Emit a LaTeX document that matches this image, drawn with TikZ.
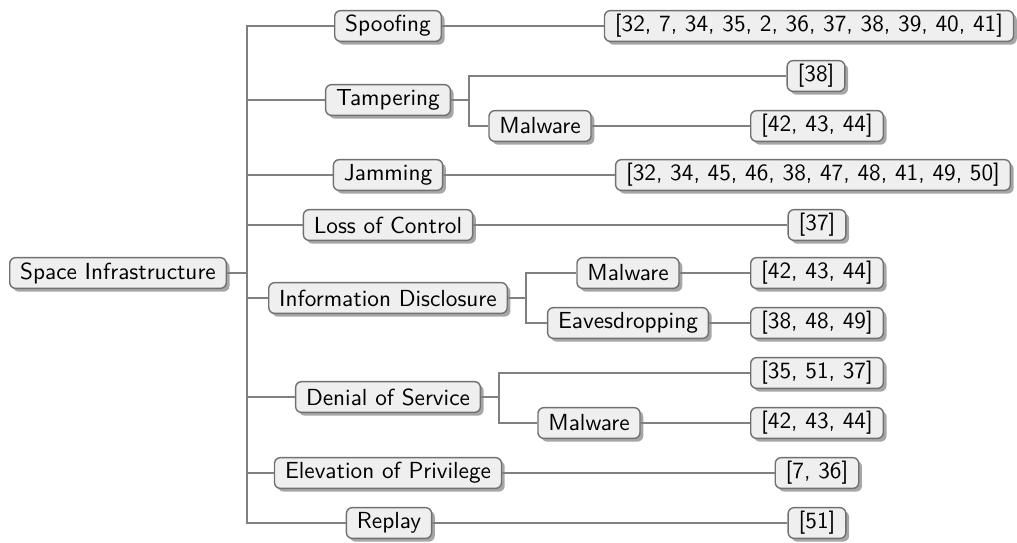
\documentclass[tikz,border=0pt]{standalone}
\usepackage{tikz}
\usetikzlibrary{positioning,shadows}
\definecolor{boxfill}{HTML}{EFEFEF}
\definecolor{boxline}{HTML}{707070}
\definecolor{treeline}{HTML}{808080}

\begin{document}
\begin{tikzpicture}[x=0.43pt, y=-0.43pt, font=\sffamily,
		every node/.style={rounded corners=2.5pt, draw=boxline, line width=0.6pt, fill=boxfill,
			inner xsep=4.5pt, inner ysep=0pt, minimum height=13.2pt,
			drop shadow={shadow xshift=1.4pt, shadow yshift=-1.4pt, fill=black!35, opacity=1}},
		tline/.style={draw=treeline, line width=0.6pt}]
	\useasboundingbox (0,0) rectangle (1017,542);
	
	% Root
	\node (root) at (118,273) {Space Infrastructure};
	
	% Threat categories
	\node (spoof) at (388,26) {Spoofing};
	\node (tamp) at (388,100) {Tampering};
	\node (jam) at (388,175) {Jamming};
	\node (loss) at (388,225) {Loss of Control};
	\node (info) at (388,298) {Information Disclosure};
	\node (dos) at (388,397) {Denial of Service};
	\node (elev) at (388,473) {Elevation of Privilege};
	\node (replay) at (389,523) {Replay};
	
	% Sub threats
	\node (tampmal) at (540,126) {Malware};
	\node (infomal) at (628,273) {Malware};
	\node (infoeav) at (628,323) {Eavesdropping};
	\node (dosmal) at (589,423) {Malware};
	
	% References
	\node (rspoof) at (809,26) {[32, 7, 34, 35, 2, 36, 37, 38, 39, 40, 41]};
	\node (rtamp) at (816,76) {[38]};
	\node (rtampmal) at (817,126) {[42, 43, 44]};
	\node (rjam) at (813,175) {[32, 34, 45, 46, 38, 47, 48, 41, 49, 50]};
	\node (rloss) at (817,225) {[37]};
	\node (rinfomal) at (817,273) {[42, 43, 44]};
	\node (rinfoeav) at (817,323) {[38, 48, 49]};
	\node (rdos) at (817,373) {[35, 51, 37]};
	\node (rdosmal) at (817,423) {[42, 43, 44]};
	\node (relev) at (817,473) {[7, 36]};
	\node (rreplay) at (817,523) {[51]};
	
	% Edges
	\path[tline] (root.east) -- +(20,0) |- (spoof.west);
	\path[tline] (root.east) -- +(20,0) |- (tamp.west);
	\path[tline] (root.east) -- +(20,0) |- (jam.west);
	\path[tline] (root.east) -- +(20,0) |- (loss.west);
	\path[tline] (root.east) -- +(20,0) |- (info.west);
	\path[tline] (root.east) -- +(20,0) |- (dos.west);
	\path[tline] (root.east) -- +(20,0) |- (elev.west);
	\path[tline] (root.east) -- +(20,0) |- (replay.west);
	\path[tline] (spoof) -- (rspoof);
	\path[tline] (tamp.east) -- +(18,0) |- (rtamp.west);
	\path[tline] (tamp.east) -- +(18,0) |- (tampmal.west);
	\path[tline] (tampmal) -- (rtampmal);
	\path[tline] (jam) -- (rjam);
	\path[tline] (loss) -- (rloss);
	\path[tline] (info.east) -- +(18,0) |- (infomal.west);
	\path[tline] (info.east) -- +(18,0) |- (infoeav.west);
	\path[tline] (infomal) -- (rinfomal);
	\path[tline] (infoeav) -- (rinfoeav);
	\path[tline] (dos.east) -- +(18,0) |- (rdos.west);
	\path[tline] (dos.east) -- +(18,0) |- (dosmal.west);
	\path[tline] (dosmal) -- (rdosmal);
	\path[tline] (elev) -- (relev);
	\path[tline] (replay) -- (rreplay);
\end{tikzpicture}
\end{document}
